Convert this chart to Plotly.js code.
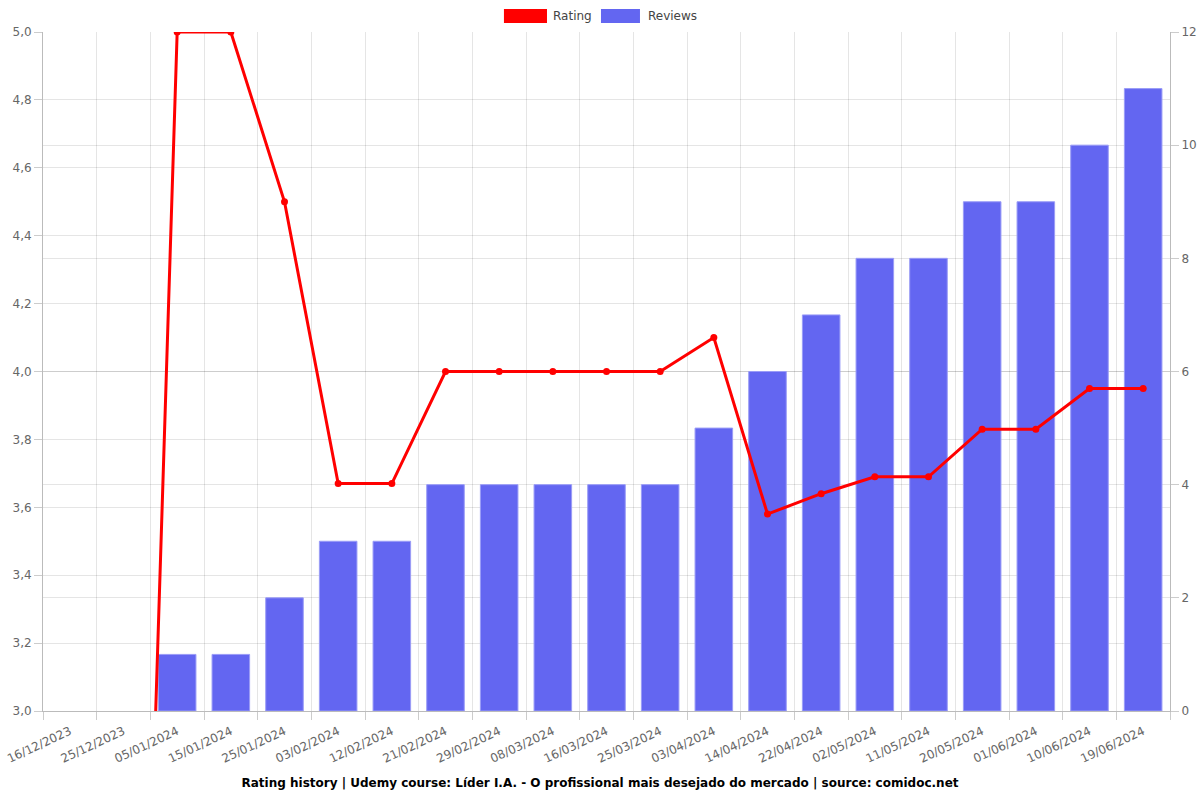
<!DOCTYPE html>
<html>
<head>
<meta charset="utf-8">
<script src="https://cdn.plot.ly/plotly-3.0.1.min.js"></script>
<style>html,body{margin:0;padding:0;background:#fff;}#chart{width:1200px;height:800px;}</style>
</head>
<body>
<div id="chart"></div>
<script>
const dates = ["16/12/2023","25/12/2023","05/01/2024","15/01/2024","25/01/2024","03/02/2024","12/02/2024","21/02/2024","29/02/2024","08/03/2024","16/03/2024","25/03/2024","03/04/2024","14/04/2024","22/04/2024","02/05/2024","11/05/2024","20/05/2024","01/06/2024","10/06/2024","19/06/2024"];
const rating = [0,0,5,5,4.5,3.67,3.67,4,4,4,4,4,4.1,3.58,3.64,3.69,3.69,3.83,3.83,3.95,3.95];
const reviews = [0,0,1,1,2,3,3,4,4,4,4,4,5,6,7,8,8,9,9,10,11];
const ratingTicks = [3.0,3.2,3.4,3.6,3.8,4.0,4.2,4.4,4.6,4.8,5.0];
const reviewTicks = [0,2,4,6,8,10,12];
const titleText = "Rating history | Udemy course: Líder I.A. - O profissional mais desejado do mercado | source: comidoc.net";

const font = "DejaVu Sans, Verdana, sans-serif";
const traces = [
  {
    type: "bar", name: "Reviews", x: dates, y: reviews, yaxis: "y",
    marker: {color: "#6366f1", line: {color: "#9a9cf7", width: reviews.map(v => v > 0 ? 1 : 0)}},
    width: 0.7, showlegend: false, hoverinfo: "x+y"
  },
  {
    type: "scatter", mode: "lines+markers", name: "Rating", x: dates, y: rating, yaxis: "y2",
    line: {color: "#ff0000", width: 3}, marker: {color: "#ff0000", size: 7},
    showlegend: false
  }
];

const layout = {
  width: 1200, height: 800,
  margin: {l: 43, r: 30, t: 32, b: 89},
  paper_bgcolor: "#fff", plot_bgcolor: "#fff",
  separators: ",.",
  font: {family: font, size: 12, color: "#666"},
  showlegend: false,
  bargap: 0.3,
  title: {
    text: "<b>" + titleText + "</b>",
    font: {family: font, size: 12, color: "#000"},
    x: 0.5, xanchor: "center", xref: "container",
    y: 1 - 783/800, yanchor: "middle", yref: "container"
  },
  xaxis: {
    type: "category", range: [-0.5, dates.length - 0.5],
    tickson: "boundaries", ticks: "outside", ticklen: 8, tickcolor: "#ccc",
    ticklabelstandoff: 8,
    showgrid: true, gridcolor: "rgba(0,0,0,0.1)",
    showline: true, linecolor: "#bbb",
    tickangle: -25, tickfont: {family: font, size: 12, color: "#666"},
    fixedrange: true
  },
  yaxis: {
    side: "right", range: [0, 12], tickvals: reviewTicks,
    ticktext: reviewTicks.map(String),
    ticks: "outside", ticklen: 8, tickcolor: "#ccc",
    showgrid: true, gridcolor: "rgba(0,0,0,0.1)",
    showline: true, linecolor: "#bbb", zeroline: false,
    tickfont: {family: font, size: 12, color: "#666"}
  },
  yaxis2: {
    side: "left", overlaying: "y", range: [3, 5], tickvals: ratingTicks,
    tickformat: ".1f",
    ticks: "outside", ticklen: 8, tickcolor: "#ccc",
    showgrid: true, gridcolor: "rgba(0,0,0,0.1)",
    showline: true, linecolor: "#bbb", zeroline: false,
    tickfont: {family: font, size: 12, color: "#666"}
  },
  shapes: [
    {type: "rect", xref: "paper", yref: "paper", x0: 0.4090, x1: 0.4472, y0: 1.0133, y1: 1.0339,
     fillcolor: "#ff0000", line: {width: 0}},
    {type: "rect", xref: "paper", yref: "paper", x0: 0.4951, x1: 0.5297, y0: 1.0133, y1: 1.0339,
     fillcolor: "#6366f1", line: {width: 0}}
  ],
  annotations: [
    {text: "Rating", xref: "paper", yref: "paper", x: 0.4508, y: 1.0236, xanchor: "left", yanchor: "middle",
     showarrow: false, font: {family: font, size: 12, color: "#444"}},
    {text: "Reviews", xref: "paper", yref: "paper", x: 0.5350, y: 1.0236, xanchor: "left", yanchor: "middle",
     showarrow: false, font: {family: font, size: 12, color: "#444"}}
  ]
};

Plotly.newPlot("chart", traces, layout, {displayModeBar: false, responsive: false});
</script>
</body>
</html>
